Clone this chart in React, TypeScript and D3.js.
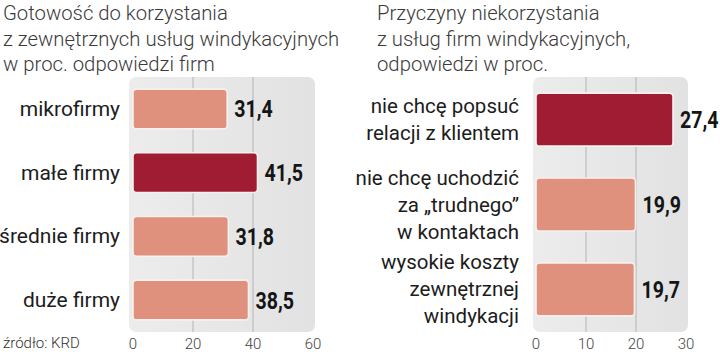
import React, {useEffect, useRef} from 'react';
import * as d3 from 'd3';

// left panel
const leftTitle = ['Gotowość do korzystania', 'z zewnętrznych usług windykacyjnych', 'w proc. odpowiedzi firm'];
const leftCats = ['mikrofirmy', 'małe firmy', 'średnie firmy', 'duże firmy'];
const leftValues = [31.4, 41.5, 31.8, 38.5];
const leftTicks = [0, 20, 40, 60];
const leftHighlight = 'małe firmy';

// right panel
const rightTitle = ['Przyczyny niekorzystania', 'z usług firm windykacyjnych,', 'odpowiedzi w proc.'];
const rightCats = [
    ['nie chcę popsuć', 'relacji z klientem'],
    ['nie chcę uchodzić', 'za \u201etrudnego\u201d', 'w kontaktach'],
    ['wysokie koszty', 'zewnętrznej', 'windykacji'],
];
const rightValues = [27.4, 19.9, 19.7];
const rightTicks = [0, 10, 20, 30];
const rightHighlight = 0;

const source = 'źródło: KRD';

const LIGHT = '#df917d';
const DARK = '#a01c32';

const fmt = (v) => v.toFixed(1).replace('.', ',');

function drawPanel(svg, opts) {
    const {titleX, title, cats, values, ticks, x0, x1, bgX0, bgX1, labelX, labelSize, highlight} = opts;
    const g = svg.append('g');

    g.selectAll('text.title')
        .data(title)
        .enter().append('text')
        .attr('class', 'title')
        .attr('x', titleX)
        .attr('y', (d, i) => 20 + i * 25.5)
        .attr('font-family', 'Roboto')
        .attr('font-weight', 300)
        .attr('font-size', '20.3px')
        .attr('fill', '#3a3a3a')
        .text(d => d);

    const x = d3.scaleLinear().domain([0, ticks[ticks.length - 1]]).range([x0, x1]);
    const y = d3.scaleBand()
        .domain(d3.range(cats.length))
        .range([77, 332])
        .paddingInner(0.375)
        .paddingOuter(0.19);

    g.append('rect')
        .attr('x', bgX0)
        .attr('y', 77)
        .attr('width', bgX1 - bgX0)
        .attr('height', 255)
        .attr('rx', 7)
        .attr('fill', 'url(#bgGrad)');

    g.selectAll('line.grid')
        .data(ticks.slice(1, -1))
        .enter().append('line')
        .attr('class', 'grid')
        .attr('x1', d => x(d))
        .attr('x2', d => x(d))
        .attr('y1', 77)
        .attr('y2', 332)
        .attr('stroke', '#b4b4b4')
        .attr('stroke-width', 1);

    g.selectAll('rect.bar')
        .data(values)
        .enter().append('rect')
        .attr('class', 'bar')
        .attr('x', x(0))
        .attr('y', (d, i) => y(i))
        .attr('width', d => x(d) - x(0))
        .attr('height', y.bandwidth())
        .attr('rx', 3.5)
        .attr('fill', (d, i) => highlight(i) ? DARK : LIGHT)
        .attr('stroke', '#f7f1ee')
        .attr('stroke-width', 1.6);

    // condensed bold value labels: Roboto bold squeezed horizontally
    g.selectAll('text.val')
        .data(values)
        .enter().append('text')
        .attr('class', 'val')
        .attr('transform', (d, i) => `translate(${x(d) + 7},${y(i) + y.bandwidth() / 2 + 8.5}) scale(0.8,1)`)
        .attr('font-family', 'Roboto')
        .attr('font-weight', 700)
        .attr('font-size', '24.5px')
        .attr('fill', '#151515')
        .text(d => fmt(d));

    cats.forEach((lines, i) => {
        const ls = Array.isArray(lines) ? lines : [lines];
        const cy = y(i) + y.bandwidth() / 2;
        g.selectAll(null)
            .data(ls)
            .enter().append('text')
            .attr('x', labelX)
            .attr('y', (d, j) => cy + (j - (ls.length - 1) / 2) * 27 + 7)
            .attr('text-anchor', 'end')
            .attr('font-family', 'Roboto')
            .attr('font-size', labelSize)
            .attr('fill', '#1c1c1c')
            .text(d => d);
    });

    g.selectAll('text.tick')
        .data(ticks)
        .enter().append('text')
        .attr('class', 'tick')
        .attr('x', d => x(d))
        .attr('y', 349)
        .attr('text-anchor', 'middle')
        .attr('font-family', 'Roboto')
        .attr('font-weight', 300)
        .attr('font-size', '15px')
        .attr('fill', '#444')
        .text(d => d);
}

const App = () => {
    const svgRef = useRef(null);

    useEffect(() => {
        const svg = d3.select(svgRef.current);
        svg.selectAll('*').remove();

        const grad = svg.append('defs').append('linearGradient')
            .attr('id', 'bgGrad')
            .attr('x1', '0%').attr('x2', '100%')
            .attr('y1', '0%').attr('y2', '0%');
        grad.append('stop').attr('offset', '0%').attr('stop-color', '#ececec');
        grad.append('stop').attr('offset', '100%').attr('stop-color', '#e2e2e2');

        drawPanel(svg, {
            titleX: 3,
            title: leftTitle,
            cats: leftCats,
            values: leftValues,
            ticks: leftTicks,
            x0: 133, x1: 313,
            bgX0: 129, bgX1: 315,
            labelX: 120,
            labelSize: '21px',
            highlight: (i) => leftCats[i] === leftHighlight,
        });

        drawPanel(svg, {
            titleX: 377,
            title: rightTitle,
            cats: rightCats,
            values: rightValues,
            ticks: rightTicks,
            x0: 536, x1: 686,
            bgX0: 533, bgX1: 688,
            labelX: 519,
            labelSize: '20.5px',
            highlight: (i) => i === rightHighlight,
        });

        svg.append('text')
            .attr('x', 3)
            .attr('y', 348)
            .attr('font-family', 'Roboto')
            .attr('font-weight', 300)
            .attr('font-size', '15px')
            .attr('fill', '#333')
            .text(source);
    }, []);

    return (
        <svg ref={svgRef} width={720} height={352}
             style={{position: 'absolute', left: 0, top: 0, background: '#fff'}}/>
    );
};

export default App;
